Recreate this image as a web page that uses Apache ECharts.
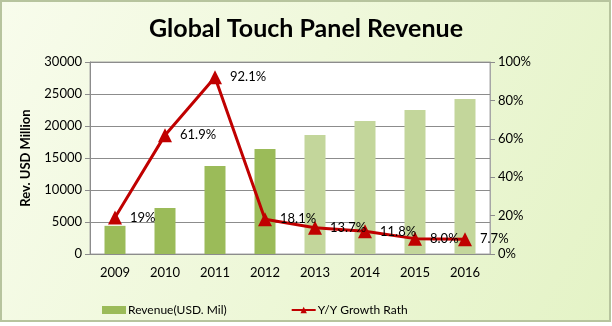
<!DOCTYPE html>
<html>
<head>
<meta charset="utf-8">
<script src="https://cdn.jsdelivr.net/npm/echarts@6/dist/echarts.min.js"></script>
<style>
  html, body { margin: 0; padding: 0; }
  #chart { width: 612px; height: 326px; }
</style>
</head>
<body>
<div id="chart"></div>
<script>
// Years on the category axis
const years = ['2009', '2010', '2011', '2012', '2013', '2014', '2015', '2016'];
// Revenue in USD million (2013 onward are forecasts)
const revenue = [4400, 7200, 13750, 16400, 18600, 20800, 22500, 24200];
// Year-over-year growth, percent
const growth = [19, 61.9, 92.1, 18.1, 13.7, 11.8, 8.0, 7.7];
const growthLabels = ['19%', '61.9%', '92.1%', '18.1%', '13.7%', '11.8%', '8.0%', '7.7%'];
// Number of actual (non-forecast) years
const actualCount = 4;
// Axis ticks
const revenueTicks = { min: 0, max: 30000, interval: 5000 };
const growthTicks = { min: 0, max: 100, interval: 20 };

const FONT = 'Lato, "Open Sans", sans-serif';
const ACTUAL = '#9BBB59';
const FORECAST = '#C3D69B';
const chart = echarts.init(document.getElementById('chart'), null, { renderer: 'canvas' });

chart.setOption({
  animation: false,
  backgroundColor: 'transparent',
  graphic: [
    {
      type: 'rect',
      z: -10,
      shape: { x: 1, y: 1, width: 609, height: 320 },
      style: {
        fill: new echarts.graphic.LinearGradient(0, 0, 1, 1, [
          { offset: 0, color: '#F8FCEC' },
          { offset: 1, color: '#E4F3C6' }
        ]),
        stroke: '#B7C49E',
        lineWidth: 2
      }
    }
  ],
  title: {
    text: 'Global Touch Panel Revenue',
    left: 'center',
    top: 11,
    textStyle: { fontFamily: FONT, fontSize: 25, fontWeight: 'bold', color: '#000' }
  },
  grid: {
    left: 90, right: 122, top: 62, bottom: 72,
    show: true,
    backgroundColor: '#FFFFFF',
    borderColor: '#A6A6A6',
    borderWidth: 1
  },
  legend: {
    left: 97,
    top: 299,
    itemGap: 64,
    itemWidth: 24,
    itemHeight: 8,
    textStyle: { fontFamily: FONT, fontSize: 12, color: '#000', padding: [0, 0, 0, -3] },
    data: [
      { name: 'Revenue(USD. Mil)', icon: 'rect', itemStyle: { color: ACTUAL } },
      { name: 'Y/Y Growth Rath' }
    ]
  },
  xAxis: {
    type: 'category',
    data: years,
    axisLine: { lineStyle: { color: '#8C8C8C' } },
    axisTick: { show: false },
    axisLabel: { fontFamily: FONT, fontSize: 13, color: '#000', margin: 12 }
  },
  yAxis: [
    {
      type: 'value',
      ...revenueTicks,
      name: 'Rev. USD Million',
      nameLocation: 'middle',
      nameGap: 58,
      nameTextStyle: { fontFamily: FONT, fontSize: 13, fontWeight: 'bold', color: '#000' },
      axisLine: { show: true, lineStyle: { color: '#8C8C8C' } },
      axisTick: { show: true, length: 5, lineStyle: { color: '#8C8C8C' } },
      axisLabel: { fontFamily: FONT, fontSize: 13, color: '#000', margin: 8, formatter: (v) => String(v) },
      splitLine: { lineStyle: { color: '#8C8C8C', width: 1 } }
    },
    {
      type: 'value',
      ...growthTicks,
      position: 'right',
      axisLine: { show: true, lineStyle: { color: '#A6A6A6' } },
      axisTick: { show: true, length: 5, lineStyle: { color: '#8C8C8C' } },
      axisLabel: { fontFamily: FONT, fontSize: 13, color: '#000', margin: 8, formatter: '{value}%' },
      splitLine: { show: false }
    }
  ],
  series: [
    {
      name: 'Revenue(USD. Mil)',
      type: 'bar',
      data: revenue,
      barWidth: 21,
      itemStyle: {
        color: (p) => (p && p.dataIndex >= actualCount ? FORECAST : ACTUAL)
      },
      z: 2
    },
    {
      name: 'Y/Y Growth Rath',
      type: 'line',
      yAxisIndex: 1,
      data: growth,
      symbol: 'triangle',
      symbolSize: 14,
      lineStyle: { color: '#C00000', width: 3 },
      itemStyle: { color: '#C00000' },
      label: {
        show: true,
        position: 'right',
        distance: 8,
        fontFamily: FONT,
        fontSize: 13,
        color: '#000',
        formatter: (p) => growthLabels[p.dataIndex]
      },
      z: 3
    }
  ]
});
</script>
</body>
</html>
